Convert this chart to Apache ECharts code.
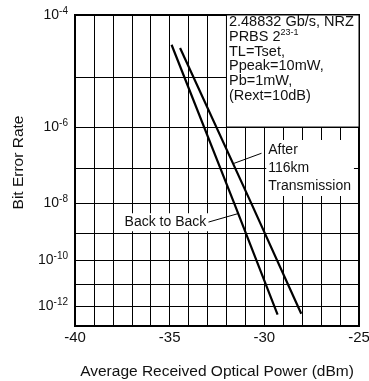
<!DOCTYPE html>
<html>
<head>
<meta charset="utf-8">
<script src="https://cdn.jsdelivr.net/npm/echarts@6/dist/echarts.min.js"></script>
<style>
html, body { margin: 0; background: #fff; }
#main { width: 369px; height: 381px; }
</style>
</head>
<body>
<div id="main"></div>
<script>
// values
var b2bPower = [-34.9, -31.6, -29.3];
var b2bBer = [3.6e-5, 1e-8, 3.8e-13];
var afterPower = [-34.45, -30.7, -28.05];
var afterBer = [3.2e-5, 1e-8, 4.2e-13];

var gridExp = [4, 5, 6, 7, 8, 9, 10, 11, 12, 13];
var labelExp = [4, 6, 8, 10, 12];
var xLabels = [-40, -35, -30, -25];
var infoLines = ['{t|2.48832 Gb/s, NRZ}', '{t|PRBS 2}{s|23-1}', '{t|TL=Tset,}', '{t|Ppeak=10mW,}', '{t|Pb=1mW,}', '{t|(Rext=10dB)}'];
var afterLines = ['After', '116km', 'Transmission'];

// BER paper: y is 20log10(Q), Q from the gaussian tail
function tail(q) {
    var n = 400, h = 10 / n, s = 0;
    for (var i = 0; i <= n; i++) {
        var t = q + i * h;
        var w = (i === 0 || i === n) ? 1 : (i % 2 ? 4 : 2);
        s += w * Math.exp(-t * t / 2);
    }
    return s * h / 3 / Math.sqrt(2 * Math.PI);
}
function qdb(ber) {
    var lo = 0.5, hi = 10;
    for (var k = 0; k < 60; k++) {
        var mid = (lo + hi) / 2;
        if (tail(mid) > ber) { lo = mid; } else { hi = mid; }
    }
    return 20 * Math.log10((lo + hi) / 2);
}
var gridVals = gridExp.map(function (e) { return qdb(Math.pow(10, -e)); });
var labelVals = labelExp.map(function (e) { return qdb(Math.pow(10, -e)); });

function expOf(v) {
    var best = 0, d = 1e9;
    gridVals.forEach(function (g, i) {
        if (Math.abs(g - v) < d) { d = Math.abs(g - v); best = gridExp[i]; }
    });
    return best;
}
function toSeries(powers, bers) {
    return powers.map(function (p, i) { return [p, qdb(bers[i])]; });
}
// point on a series at a given BER (straight on this paper)
function pointOn(powers, bers, ber) {
    var y = qdb(ber);
    var pts = toSeries(powers, bers);
    for (var i = 0; i < pts.length - 1; i++) {
        if (y >= pts[i][1] && y <= pts[i + 1][1]) {
            var f = (y - pts[i][1]) / (pts[i + 1][1] - pts[i][1]);
            return [pts[i][0] + f * (pts[i + 1][0] - pts[i][0]), y];
        }
    }
    return pts[0];
}

var font = '"Liberation Sans", Arial, sans-serif';
var ink = '#111';

var chart = echarts.init(document.getElementById('main'));

var option = {
    backgroundColor: '#fff',
    animation: false,
    textStyle: { fontFamily: font, color: ink },
    grid: {
        left: 75, right: 10, top: 15, bottom: 55,
        outerBoundsMode: 'none',
        show: true, borderColor: '#000', borderWidth: 2
    },
    xAxis: {
        type: 'value',
        min: -40, max: -25, interval: 1,
        name: 'Average Received Optical Power (dBm)',
        nameLocation: 'middle', nameGap: 38,
        nameTextStyle: { fontSize: 15.5, color: ink, fontFamily: font },
        axisLine: { lineStyle: { color: '#000', width: 2 } },
        axisTick: { show: false },
        axisLabel: {
            customValues: xLabels,
            fontSize: 15, color: ink, margin: 4, fontFamily: font
        },
        splitLine: { show: true, lineStyle: { color: '#000', width: 1 } }
    },
    yAxis: {
        type: 'value',
        inverse: true,
        min: qdb(1e-4), max: qdb(1e-13),
        name: 'Bit Error Rate',
        nameLocation: 'middle', nameGap: 48,
        nameTextStyle: { fontSize: 15.5, color: ink, fontFamily: font, padding: [0, 0, 0, 16] },
        axisLine: { lineStyle: { color: '#000', width: 2 } },
        axisTick: { show: false, customValues: gridVals },
        axisLabel: {
            customValues: labelVals,
            margin: 7,
            formatter: function (v) { return '{b|10}{s|-' + expOf(v) + '}'; },
            rich: {
                b: { fontSize: 14, color: ink, fontFamily: font },
                s: { fontSize: 10, color: ink, fontFamily: font, padding: [0, 0, 8, 0] }
            }
        },
        splitLine: { show: true, lineStyle: { color: '#000', width: 1 } }
    },
    series: [
        {
            name: 'Back to Back',
            type: 'line',
            data: toSeries(b2bPower, b2bBer),
            symbol: 'none',
            lineStyle: { color: '#000', width: 2.2 },
            markArea: {
                silent: true,
                itemStyle: { color: '#fff', borderColor: '#000', borderWidth: 1 },
                label: {
                    show: true,
                    position: 'insideTopLeft',
                    distance: 0,
                    padding: [0, 0, 0, 3],
                    formatter: infoLines.join('\n'),
                    rich: {
                        t: { fontSize: 14.5, lineHeight: 14.8, color: ink, fontFamily: font },
                        s: { fontSize: 9, lineHeight: 14.8, color: ink, fontFamily: font, padding: [0, 0, 8, 0] }
                    }
                },
                data: [[{ coord: [-32, qdb(1e-4)] }, { coord: [-25, qdb(1e-6)] }]]
            },
            markLine: {
                silent: true,
                symbol: 'none',
                label: { show: false },
                lineStyle: { color: '#000', width: 1, type: 'solid' },
                data: [
                    [{ coord: [-32.96, qdb(2.4e-9)] }, { coord: pointOn(b2bPower, b2bBer, 4.6e-9) }],
                    [{ coord: [-30.15, qdb(2.4e-7)] }, { coord: pointOn(afterPower, afterBer, 1.3e-7) }]
                ]
            },
            markPoint: {
                silent: true,
                symbol: 'circle',
                symbolSize: 0,
                itemStyle: { color: 'rgba(0,0,0,0)' },
                data: [
                    {
                        coord: [-32.96, qdb(2.4e-9)],
                        label: {
                            show: true, position: 'left', distance: 0,
                            formatter: 'Back to Back',
                            fontSize: 14, color: ink, fontFamily: font,
                            backgroundColor: '#fff', padding: [2, 2, 2, 3]
                        }
                    },
                    {
                        coord: [-29.9, qdb(1e-7)],
                        label: {
                            show: true, position: 'right', distance: 0,
                            formatter: afterLines.join('\n'),
                            fontSize: 14, lineHeight: 18, color: ink, fontFamily: font,
                            backgroundColor: '#fff', padding: [1, 3, 1, 2]
                        }
                    }
                ]
            }
        },
        {
            name: 'After 116km Transmission',
            type: 'line',
            data: toSeries(afterPower, afterBer),
            symbol: 'none',
            lineStyle: { color: '#000', width: 2.2 }
        }
    ]
};

chart.setOption(option);
</script>
</body>
</html>
